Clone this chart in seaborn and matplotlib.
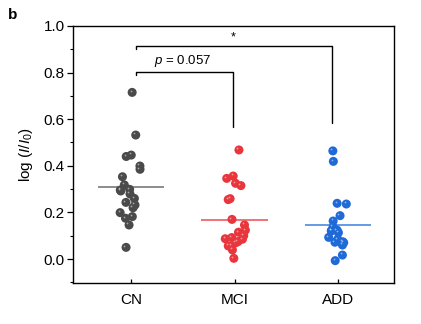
import numpy as np
import pandas as pd
import matplotlib
matplotlib.use("Agg")
import matplotlib.pyplot as plt
import matplotlib.transforms as mtransforms
import seaborn as sns

groups = ["CN", "MCI", "ADD"]
cn_vals = [0.715, 0.532, 0.44, 0.446, 0.399, 0.385, 0.353, 0.318, 0.292, 0.299, 0.296,
           0.279, 0.26, 0.243, 0.232, 0.22, 0.199, 0.182, 0.175, 0.146, 0.05]
mci_vals = [0.468, 0.356, 0.346, 0.325, 0.315, 0.259, 0.255, 0.170, 0.146, 0.124, 0.115,
            0.10, 0.085, 0.092, 0.087, 0.075, 0.07, 0.056, 0.056, 0.039, 0.003]
add_vals = [0.464, 0.419, 0.239, 0.236, 0.186, 0.163, 0.137, 0.124, 0.121, 0.121, 0.113,
            0.093, 0.085, 0.072, 0.074, 0.07, 0.06, 0.017, -0.007]
colors = ["#4a4a4a", "#e8363c", "#1f6ad6"]
line_colors = ["#6e6e6e", "#ee4a4f", "#3a7ee0"]
yticks = [0.0, 0.2, 0.4, 0.6, 0.8, 1.0]

sns.set_theme(style="ticks")
plt.rcParams["font.family"] = ["Liberation Sans", "DejaVu Sans"]
plt.rcParams["mathtext.fontset"] = "custom"
plt.rcParams["mathtext.rm"] = "Liberation Sans"
plt.rcParams["mathtext.it"] = "Liberation Sans:italic"
plt.rcParams["mathtext.bf"] = "Liberation Sans:bold"
for k in ["text.color", "axes.labelcolor", "xtick.color", "ytick.color", "axes.edgecolor"]:
    plt.rcParams[k] = "black"

df = pd.DataFrame({
    "group": ["CN"] * len(cn_vals) + ["MCI"] * len(mci_vals) + ["ADD"] * len(add_vals),
    "value": cn_vals + mci_vals + add_vals,
})

fig = plt.figure(figsize=(4.21, 3.24), dpi=100)
ax = fig.add_axes([0.1734, 0.1265, 0.7625, 0.7933])

np.random.seed(3)
sns.stripplot(data=df, x="group", y="value", hue="group", order=groups,
              palette=colors, jitter=0.11, size=6.5, linewidth=0,
              legend=False, ax=ax, zorder=3)

# sphere highlights
hl = mtransforms.offset_copy(ax.transData, fig=fig, x=-1.6, y=1.6, units="dots")
for coll in list(ax.collections):
    offs = coll.get_offsets()
    if len(offs):
        ax.scatter(offs[:, 0], offs[:, 1], s=1.6, color="white", alpha=0.5,
                   linewidth=0, transform=hl, zorder=4)

# mean lines
for i, (g, lc) in enumerate(zip(groups, line_colors)):
    m = df.loc[df.group == g, "value"].mean()
    ax.hlines(m, i - 0.32, i + 0.32, color=lc, lw=1.1, zorder=2)

ax.set_xlim(-0.56, 2.54)
ax.set_ylim(-0.103, 1.0)
ax.set_yticks(yticks)
ax.set_yticklabels([f"{v:.1f}" for v in yticks])
ax.yaxis.set_minor_locator(matplotlib.ticker.MultipleLocator(0.1))
ax.tick_params(axis="y", which="major", direction="out", length=4, width=0.9,
               labelsize=11, pad=2)
ax.tick_params(axis="y", which="minor", direction="out", length=2.5, width=0.8)
ax.tick_params(axis="x", which="major", direction="in", length=3, width=0.9,
               labelsize=11, pad=7)
for s in ax.spines.values():
    s.set_visible(True)
    s.set_linewidth(1.0)
    s.set_color("black")
ax.set_xlabel("")
ax.set_ylabel(r"log ($I$/$I_0$)", fontsize=11, labelpad=6)

# significance brackets
lw = 1.0
ax.plot([0.05, 0.05, 1.94, 1.94], [0.900, 0.914, 0.914, 0.584], color="black", lw=lw)
ax.text(0.985, 0.925, "*", ha="center", va="bottom", fontsize=9)
ax.plot([0.05, 0.05, 0.985, 0.985], [0.790, 0.804, 0.804, 0.567], color="black", lw=lw)
ax.text(0.5, 0.814, r"$p$ = 0.057", ha="center", va="bottom", fontsize=9.5)

fig.text(0.02, 0.975, "b", fontsize=11, fontweight="bold", va="top", ha="left")

fig.savefig("out.png", dpi=100)
